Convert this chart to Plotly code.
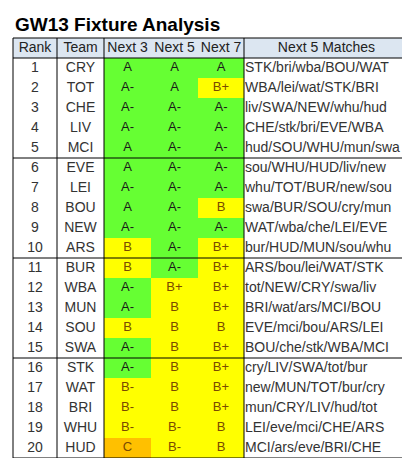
import plotly.graph_objects as go

title = "GW13 Fixture Analysis"
headers = ["Rank", "Team", "Next 3", "Next 5", "Next 7", "Next 5 Matches"]
ranks = list(range(1, 21))
teams = ["CRY", "TOT", "CHE", "LIV", "MCI", "EVE", "LEI", "BOU", "NEW", "ARS",
         "BUR", "WBA", "MUN", "SOU", "SWA", "STK", "WAT", "BRI", "WHU", "HUD"]
next3 = ["A", "A-", "A-", "A-", "A", "A", "A-", "A", "A-", "B",
         "B", "A-", "A-", "B", "A-", "A-", "B-", "B-", "B-", "C"]
next5 = ["A", "A", "A-", "A-", "A-", "A-", "A-", "A-", "A-", "A-",
         "A-", "B+", "B", "B", "B", "B", "B", "B", "B-", "B-"]
next7 = ["A", "B+", "A-", "A-", "A-", "A-", "A-", "B", "A-", "B+",
         "B+", "B+", "B+", "B", "B+", "B+", "B+", "B+", "B", "B"]
matches = ["STK/bri/wba/BOU/WAT", "WBA/lei/wat/STK/BRI", "liv/SWA/NEW/whu/hud",
           "CHE/stk/bri/EVE/WBA", "hud/SOU/WHU/mun/swa", "sou/WHU/HUD/liv/new",
           "whu/TOT/BUR/new/sou", "swa/BUR/SOU/cry/mun", "WAT/wba/che/LEI/EVE",
           "bur/HUD/MUN/sou/whu", "ARS/bou/lei/WAT/STK", "tot/NEW/CRY/swa/liv",
           "BRI/wat/ars/MCI/BOU", "EVE/mci/bou/ARS/LEI", "BOU/che/stk/WBA/MCI",
           "cry/LIV/SWA/tot/bur", "new/MUN/TOT/bur/cry", "mun/CRY/LIV/hud/tot",
           "LEI/eve/mci/CHE/ARS", "MCI/ars/eve/BRI/CHE"]

fills = {"A": "#66ff33", "A-": "#66ff33", "B+": "#ffff00", "B": "#ffff00",
         "B-": "#ffff00", "C": "#ffc000"}
txtcol = {"A": "#1a1a1a", "A-": "#1a1a1a", "B+": "#7a4a00", "B": "#7a4a00",
          "B-": "#7a4a00", "C": "#7a4a00"}

# layout in pixel units
cols = [5, 49, 96, 143, 190, 236, 401]
head_top, head_bot, row_h = 30, 50, 20
font = "Liberation Sans"

fig = go.Figure()
shapes = []
shapes.append(dict(type="rect", x0=cols[0], x1=cols[-1], y0=head_top, y1=head_bot,
                   fillcolor="#dce6f1", line_width=0, layer="below"))
grades = [next3, next5, next7]
for i in range(len(teams)):
    y0 = head_bot + i * row_h
    for c, g in enumerate(grades):
        shapes.append(dict(type="rect", x0=cols[2 + c], x1=cols[3 + c], y0=y0, y1=y0 + row_h,
                           fillcolor=fills[g[i]], line_width=0, layer="below"))
bottom = head_bot + len(teams) * row_h
line = dict(color="black", width=1)
for x in [cols[0], cols[1], cols[2], cols[5], cols[6]]:
    shapes.append(dict(type="line", x0=x, x1=x, y0=head_top, y1=bottom, line=line))
for y in [head_top, head_bot, bottom] + [head_bot + k * row_h for k in (5, 10, 15)]:
    shapes.append(dict(type="line", x0=cols[0], x1=cols[-1], y0=y, y1=y, line=line))

# header text
hx = [(cols[k] + cols[k + 1]) / 2 for k in range(6)]
fig.add_trace(go.Scatter(x=hx, y=[40] * 6, mode="text", text=headers,
                         textfont=dict(family=font, size=14, color="#222")))
ys = [head_bot + row_h * (i + 0.5) for i in range(len(teams))]
fig.add_trace(go.Scatter(x=[hx[0]] * 20, y=ys, mode="text", text=[str(r) for r in ranks],
                         textfont=dict(family=font, size=14, color="#333")))
fig.add_trace(go.Scatter(x=[hx[1]] * 20, y=ys, mode="text", text=teams,
                         textfont=dict(family=font, size=14, color="#333")))
for c, g in enumerate(grades):
    fig.add_trace(go.Scatter(x=[hx[2 + c]] * 20, y=ys, mode="text", text=g,
                             textfont=dict(family=font, size=13, color=[txtcol[v] for v in g])))
fig.add_trace(go.Scatter(x=[cols[5] + 1] * 20, y=ys, mode="text", text=matches,
                         textposition="middle right",
                         textfont=dict(family=font, size=14, color="#333")))

fig.add_annotation(x=5, y=16, text="<b>" + title + "</b>", showarrow=False,
                   xanchor="left", yanchor="middle",
                   font=dict(family=font, size=19, color="black"))

fig.update_layout(width=410, height=458, margin=dict(l=0, r=0, t=0, b=0),
                  plot_bgcolor="white", paper_bgcolor="white", showlegend=False,
                  shapes=shapes,
                  xaxis=dict(range=[0, 410], visible=False, fixedrange=True),
                  yaxis=dict(range=[458, 0], visible=False, fixedrange=True))
fig.write_html("out.html", config={"displayModeBar": False})
